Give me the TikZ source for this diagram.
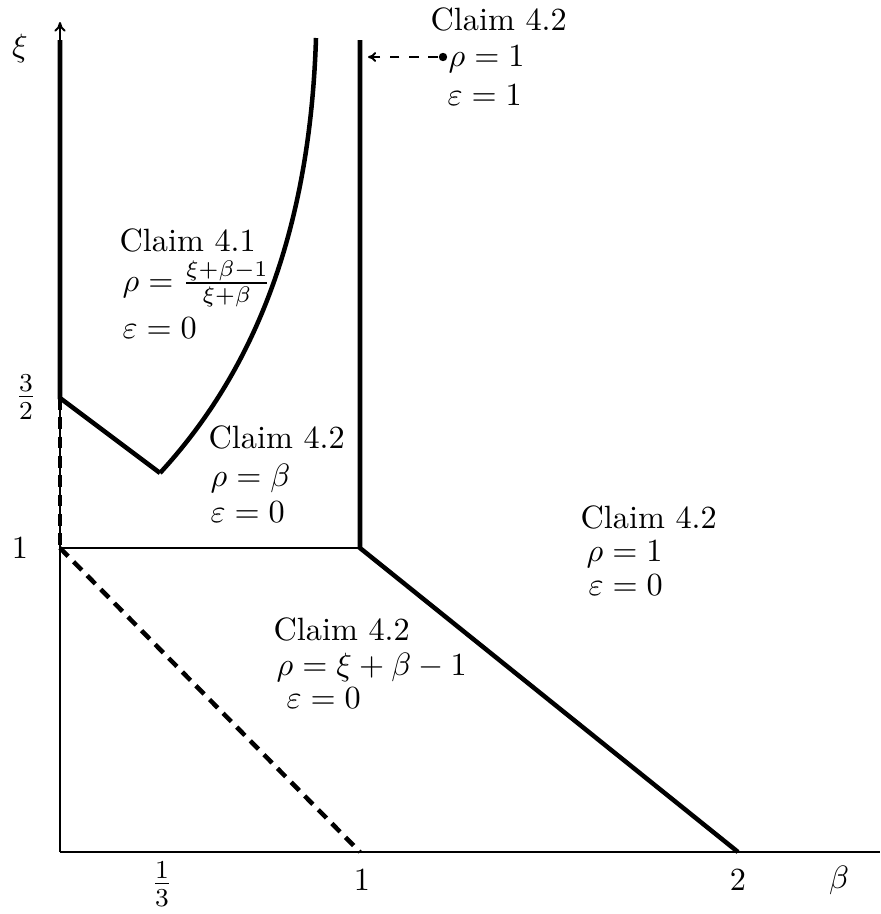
\documentclass[tikz,border=0pt]{standalone}
\usetikzlibrary{arrows.meta}
\begin{document}
\begin{tikzpicture}[x=0.31pt,y=-0.31pt,
  thickln/.style={line width=1.4pt},
  thinln/.style={line width=0.6pt},
  dsh/.style={dash pattern=on 3.6pt off 2.4pt},
  lbl/.style={inner sep=0pt,anchor=base west},
  axlbl/.style={inner sep=0pt,anchor=center}]
\useasboundingbox (0,0) rectangle (880,914);
% key points
\coordinate (O) at (60,852);
\coordinate (Ytop) at (60,22);
\coordinate (Xend) at (880,852);
\coordinate (Ltop) at (60,40);
\coordinate (A) at (60,398);
\coordinate (B) at (60,548);
\coordinate (V) at (160,473);
\coordinate (Ctop) at (316,38);
\coordinate (Rtop) at (360,40);
\coordinate (C) at (360,548);
\coordinate (D) at (738,852);
\coordinate (E) at (360,852);
\coordinate (Tip) at (368,57);
% axes
\draw[thinln,-{To[length=3pt,width=3.5pt]}] (O) -- (Ytop);
\draw[thinln] (O) -- (Xend);
% region boundaries
\draw[thickln] (Ltop) -- (A) -- (V);
\draw[thickln,dsh] (A) -- (B);
\draw[thickln] (V) .. controls (255,370) and (310,230) .. (Ctop);
\draw[thickln] (Rtop) -- (C) -- (D);
\draw[thinln] (B) -- (C);
\draw[thickln,dsh] (B) -- (E);
% pointer
\node[circle,fill,inner sep=0pt,minimum size=2.6pt] (dot) at (443,57) {};
\draw[thinln,dash pattern=on 3pt off 3pt,-{To[length=2.5pt,width=3pt]}] (dot) -- (Tip);
% axis labels
\node[axlbl] (xi) at (20,48) {$\xi$};
\node[axlbl] (beta) at (839,880) {$\beta$};
\node[axlbl] (y32) at (26,397) {\large$\frac{3}{2}$};
\node[axlbl] (y1) at (20,548) {$1$};
\node[axlbl] (x13) at (162,884) {\large$\frac{1}{3}$};
\node[axlbl] (x1) at (362,880) {$1$};
\node[axlbl] (x2) at (738,880) {$2$};
% region texts
\node[lbl] (t1) at (430,30) {Claim 4.2};
\node[lbl] (t2) at (448,66) {$\rho = 1$};
\node[lbl] (t3) at (447,105) {$\varepsilon = 1$};
\node[lbl] (a1) at (119,251) {Claim 4.1};
\node[lbl] (a2) at (122,291) {$\rho = \frac{\xi+\beta-1}{\xi+\beta}$};
\node[lbl] (a3) at (122,338) {$\varepsilon = 0$};
\node[lbl] (m1) at (208,448) {Claim 4.2};
\node[lbl] (m2) at (210,486) {$\rho = \beta$};
\node[lbl] (m3) at (210,522) {$\varepsilon = 0$};
\node[lbl] (r1) at (580,528) {Claim 4.2};
\node[lbl] (r2) at (586,561) {$\rho = 1$};
\node[lbl] (r3) at (588,595) {$\varepsilon = 0$};
\node[lbl] (b1) at (273,640) {Claim 4.2};
\node[lbl] (b2) at (276,675) {$\rho = \xi + \beta - 1$};
\node[lbl] (b3) at (286,708) {$\varepsilon = 0$};
\end{tikzpicture}
\end{document}
